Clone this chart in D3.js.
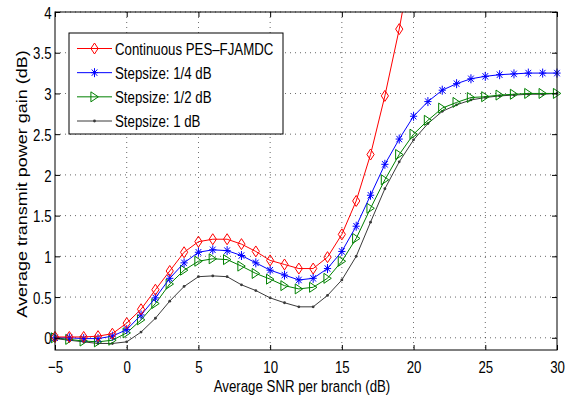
<!DOCTYPE html>
<html>
<head>
<meta charset="utf-8">
<script src="https://cdn.jsdelivr.net/npm/d3@7"></script>
<style>
  body { margin: 0; background: #fff; }
  text { font-family: "Liberation Sans", Arial, Helvetica, sans-serif; fill: #000; }
  .grid line { stroke: #000; stroke-width: 0.8; stroke-dasharray: 1,4; opacity: 0.75; }
  .series { fill: none; stroke-width: 1; }
</style>
</head>
<body>
<script>
// data
const snr = [-5, -4, -3, -2, -1, 0, 1, 2, 3, 4, 5, 6, 7, 8, 9, 10, 11, 12, 13, 14, 15,
  16, 17, 18, 19, 20, 21, 22, 23, 24, 25, 26, 27, 28, 29, 30];

const continuous = [0.01, 0.01, 0.01, 0.02, 0.05, 0.18, 0.35, 0.59, 0.82, 1.05, 1.18, 1.21, 1.21,
  1.15, 1.06, 0.95, 0.90, 0.85, 0.85, 0.99, 1.27, 1.68, 2.25, 2.97, 3.79, 4.75];

const step14 = [0.0, 0.0, -0.01, -0.01, 0.02, 0.10, 0.28, 0.49, 0.73, 0.92, 1.05, 1.08, 1.07,
  1.01, 0.92, 0.83, 0.77, 0.71, 0.73, 0.85, 1.06, 1.37, 1.75, 2.13, 2.44, 2.72, 2.90, 3.04,
  3.12, 3.18, 3.21, 3.23, 3.24, 3.25, 3.25, 3.25];

const step12 = [0.0, -0.02, -0.04, -0.05, -0.03, 0.06, 0.22, 0.42, 0.66, 0.83, 0.94, 0.97, 0.96,
  0.88, 0.79, 0.72, 0.64, 0.60, 0.62, 0.73, 0.94, 1.22, 1.59, 1.94, 2.25, 2.50, 2.67, 2.82,
  2.89, 2.95, 2.96, 2.98, 2.99, 3.0, 3.0, 3.0];

const step1 = [-0.01, -0.03, -0.05, -0.07, -0.07, -0.05, 0.07, 0.24, 0.45, 0.63, 0.75, 0.76, 0.75,
  0.65, 0.58, 0.49, 0.43, 0.38, 0.38, 0.52, 0.71, 1.0, 1.42, 1.83, 2.16, 2.43, 2.63, 2.78,
  2.86, 2.92, 2.95, 2.97, 2.98, 2.99, 2.99, 3.0];

const seriesNames = ['Continuous PES\u2013FJAMDC', 'Stepsize: 1/4 dB', 'Stepsize: 1/2 dB', 'Stepsize: 1 dB'];

const xTicks = [-5, 0, 5, 10, 15, 20, 25, 30];
const xTickLabels = ['\u22125', '0', '5', '10', '15', '20', '25', '30'];
const yTicks = [0, 0.5, 1, 1.5, 2, 2.5, 3, 3.5, 4];
const yTickLabels = ['0', '0.5', '1', '1.5', '2', '2.5', '3', '3.5', '4'];

const xTitle = 'Average SNR per branch (dB)';
const yTitle = 'Average transmit power gain (dB)';

const config = {
  width: 575,
  height: 402,
  margin: [12, 18, 52, 55],   // top, right, bottom, left
  squeeze: 0.78               // text in the original is narrowed horizontally
};

const rw = config.width - config.margin[1] - config.margin[3];
const rh = config.height - config.margin[0] - config.margin[2];

const x = d3.scaleLinear().domain([-5, 30]).range([0, rw]);
const y = d3.scaleLinear().domain([-0.15, 4]).range([rh, 0]);

const root = d3.select('body')
  .append('svg')
  .attr('width', config.width)
  .attr('height', config.height);

root.append('defs').append('clipPath')
  .attr('id', 'plot-clip')
  .append('rect')
  .attr('width', rw)
  .attr('height', rh);

const svg = root.append('g')
  .attr('transform', `translate(${config.margin[3]}, ${config.margin[0]})`);

// dotted grid
const grid = svg.append('g').attr('class', 'grid');
grid.selectAll('.gx')
  .data(xTicks.slice(1, -1))
  .join('line')
  .attr('x1', d => x(d)).attr('x2', d => x(d))
  .attr('y1', 0).attr('y2', rh);
grid.selectAll('.gy')
  .data(yTicks)
  .join('line')
  .attr('x1', 0).attr('x2', rw)
  .attr('y1', d => y(d)).attr('y2', d => y(d));

// marker shapes
const markers = {
  diamond: 'M0,-5.5L3.6,0L0,5.5L-3.6,0Z',
  star: 'M0,-4.5V4.5M-3.6,0H3.6M-2.8,-3.2L2.8,3.2M-2.8,3.2L2.8,-3.2',
  triangle: 'M-3.6,-5L3.8,0L-3.6,5Z'
};

const series = [
  { name: seriesNames[0], values: continuous, color: '#ff0000', marker: 'diamond' },
  { name: seriesNames[1], values: step14, color: '#0000ff', marker: 'star' },
  { name: seriesNames[2], values: step12, color: '#008000', marker: 'triangle' },
  { name: seriesNames[3], values: step1, color: '#3a3a3a', marker: 'dot' }
];

const line = d3.line()
  .x(d => x(d[0]))
  .y(d => y(d[1]));

function drawMarker(sel, s) {
  if (s.marker === 'dot') {
    sel.append('circle')
      .attr('r', 1.4)
      .attr('fill', s.color);
  } else {
    sel.append('path')
      .attr('d', markers[s.marker])
      .attr('fill', 'none')
      .attr('stroke', s.color)
      .attr('stroke-width', 1);
  }
}

// draw from the bottom series up so red ends on top
series.slice().reverse().forEach(s => {
  const pts = s.values.map((v, i) => [snr[i], v]);

  svg.append('path')
    .datum(pts)
    .attr('class', 'series')
    .attr('clip-path', 'url(#plot-clip)')
    .attr('stroke', s.color)
    .attr('d', line);

  svg.append('g')
    .selectAll('g')
    .data(pts.filter(p => p[1] <= 4))
    .join('g')
    .attr('transform', p => `translate(${x(p[0])}, ${y(p[1])})`)
    .each(function () { drawMarker(d3.select(this), s); });
});

// frame
svg.append('rect')
  .attr('width', rw)
  .attr('height', rh)
  .attr('fill', 'none')
  .attr('stroke', '#000')
  .attr('stroke-width', 1);

// axes with inward ticks
const xAxis = svg.append('g')
  .attr('transform', `translate(0, ${rh})`)
  .call(d3.axisBottom(x)
    .tickValues(xTicks)
    .tickFormat((d, i) => xTickLabels[i])
    .tickSizeInner(-5)
    .tickSizeOuter(0));
xAxis.select('.domain').remove();
xAxis.selectAll('text')
  .attr('y', 23)
  .attr('dy', 0)
  .attr('font-size', 17)
  .attr('transform', `scale(${config.squeeze}, 1)`);

const xAxisTop = svg.append('g')
  .call(d3.axisTop(x).tickValues(xTicks).tickFormat('').tickSizeInner(-5).tickSizeOuter(0));
xAxisTop.select('.domain').remove();

const yAxis = svg.append('g')
  .call(d3.axisLeft(y)
    .tickValues(yTicks)
    .tickFormat((d, i) => yTickLabels[i])
    .tickSizeInner(-5)
    .tickSizeOuter(0));
yAxis.select('.domain').remove();
yAxis.selectAll('text')
  .attr('x', -3.5 / config.squeeze)
  .attr('dy', '0.36em')
  .attr('font-size', 17)
  .attr('transform', `scale(${config.squeeze}, 1)`);

const yAxisRight = svg.append('g')
  .attr('transform', `translate(${rw}, 0)`)
  .call(d3.axisRight(y).tickValues(yTicks).tickFormat('').tickSizeInner(-5).tickSizeOuter(0));
yAxisRight.select('.domain').remove();

svg.selectAll('.tick line').attr('stroke', '#000');

// axis titles
root.append('text')
  .attr('transform', `translate(302, 392) scale(${config.squeeze}, 1)`)
  .attr('text-anchor', 'middle')
  .attr('font-size', 17)
  .text(xTitle);

root.append('text')
  .attr('transform', `translate(27, 184) rotate(-90) scale(1, ${config.squeeze})`)
  .attr('text-anchor', 'middle')
  .attr('font-size', 18)
  .text(yTitle);

// legend
const legend = root.append('g').attr('transform', 'translate(69, 33)');
legend.append('rect')
  .attr('width', 214)
  .attr('height', 101)
  .attr('fill', '#fff')
  .attr('stroke', '#000')
  .attr('stroke-width', 1);

const rowY = d3.scalePoint().domain(d3.range(series.length)).range([15.5, 88]);

const rows = legend.selectAll('.entry')
  .data(series)
  .join('g')
  .attr('class', 'entry')
  .attr('transform', (d, i) => `translate(0, ${rowY(i)})`);

rows.append('line')
  .attr('x1', 8).attr('x2', 43)
  .attr('stroke', d => d.color)
  .attr('stroke-width', 1);

rows.append('g')
  .attr('transform', 'translate(25.5, 0)')
  .each(function (d) { drawMarker(d3.select(this), d); });

rows.append('text')
  .attr('transform', `translate(46, 6) scale(${config.squeeze}, 1)`)
  .attr('font-size', 17)
  .text(d => d.name);
</script>
</body>
</html>
